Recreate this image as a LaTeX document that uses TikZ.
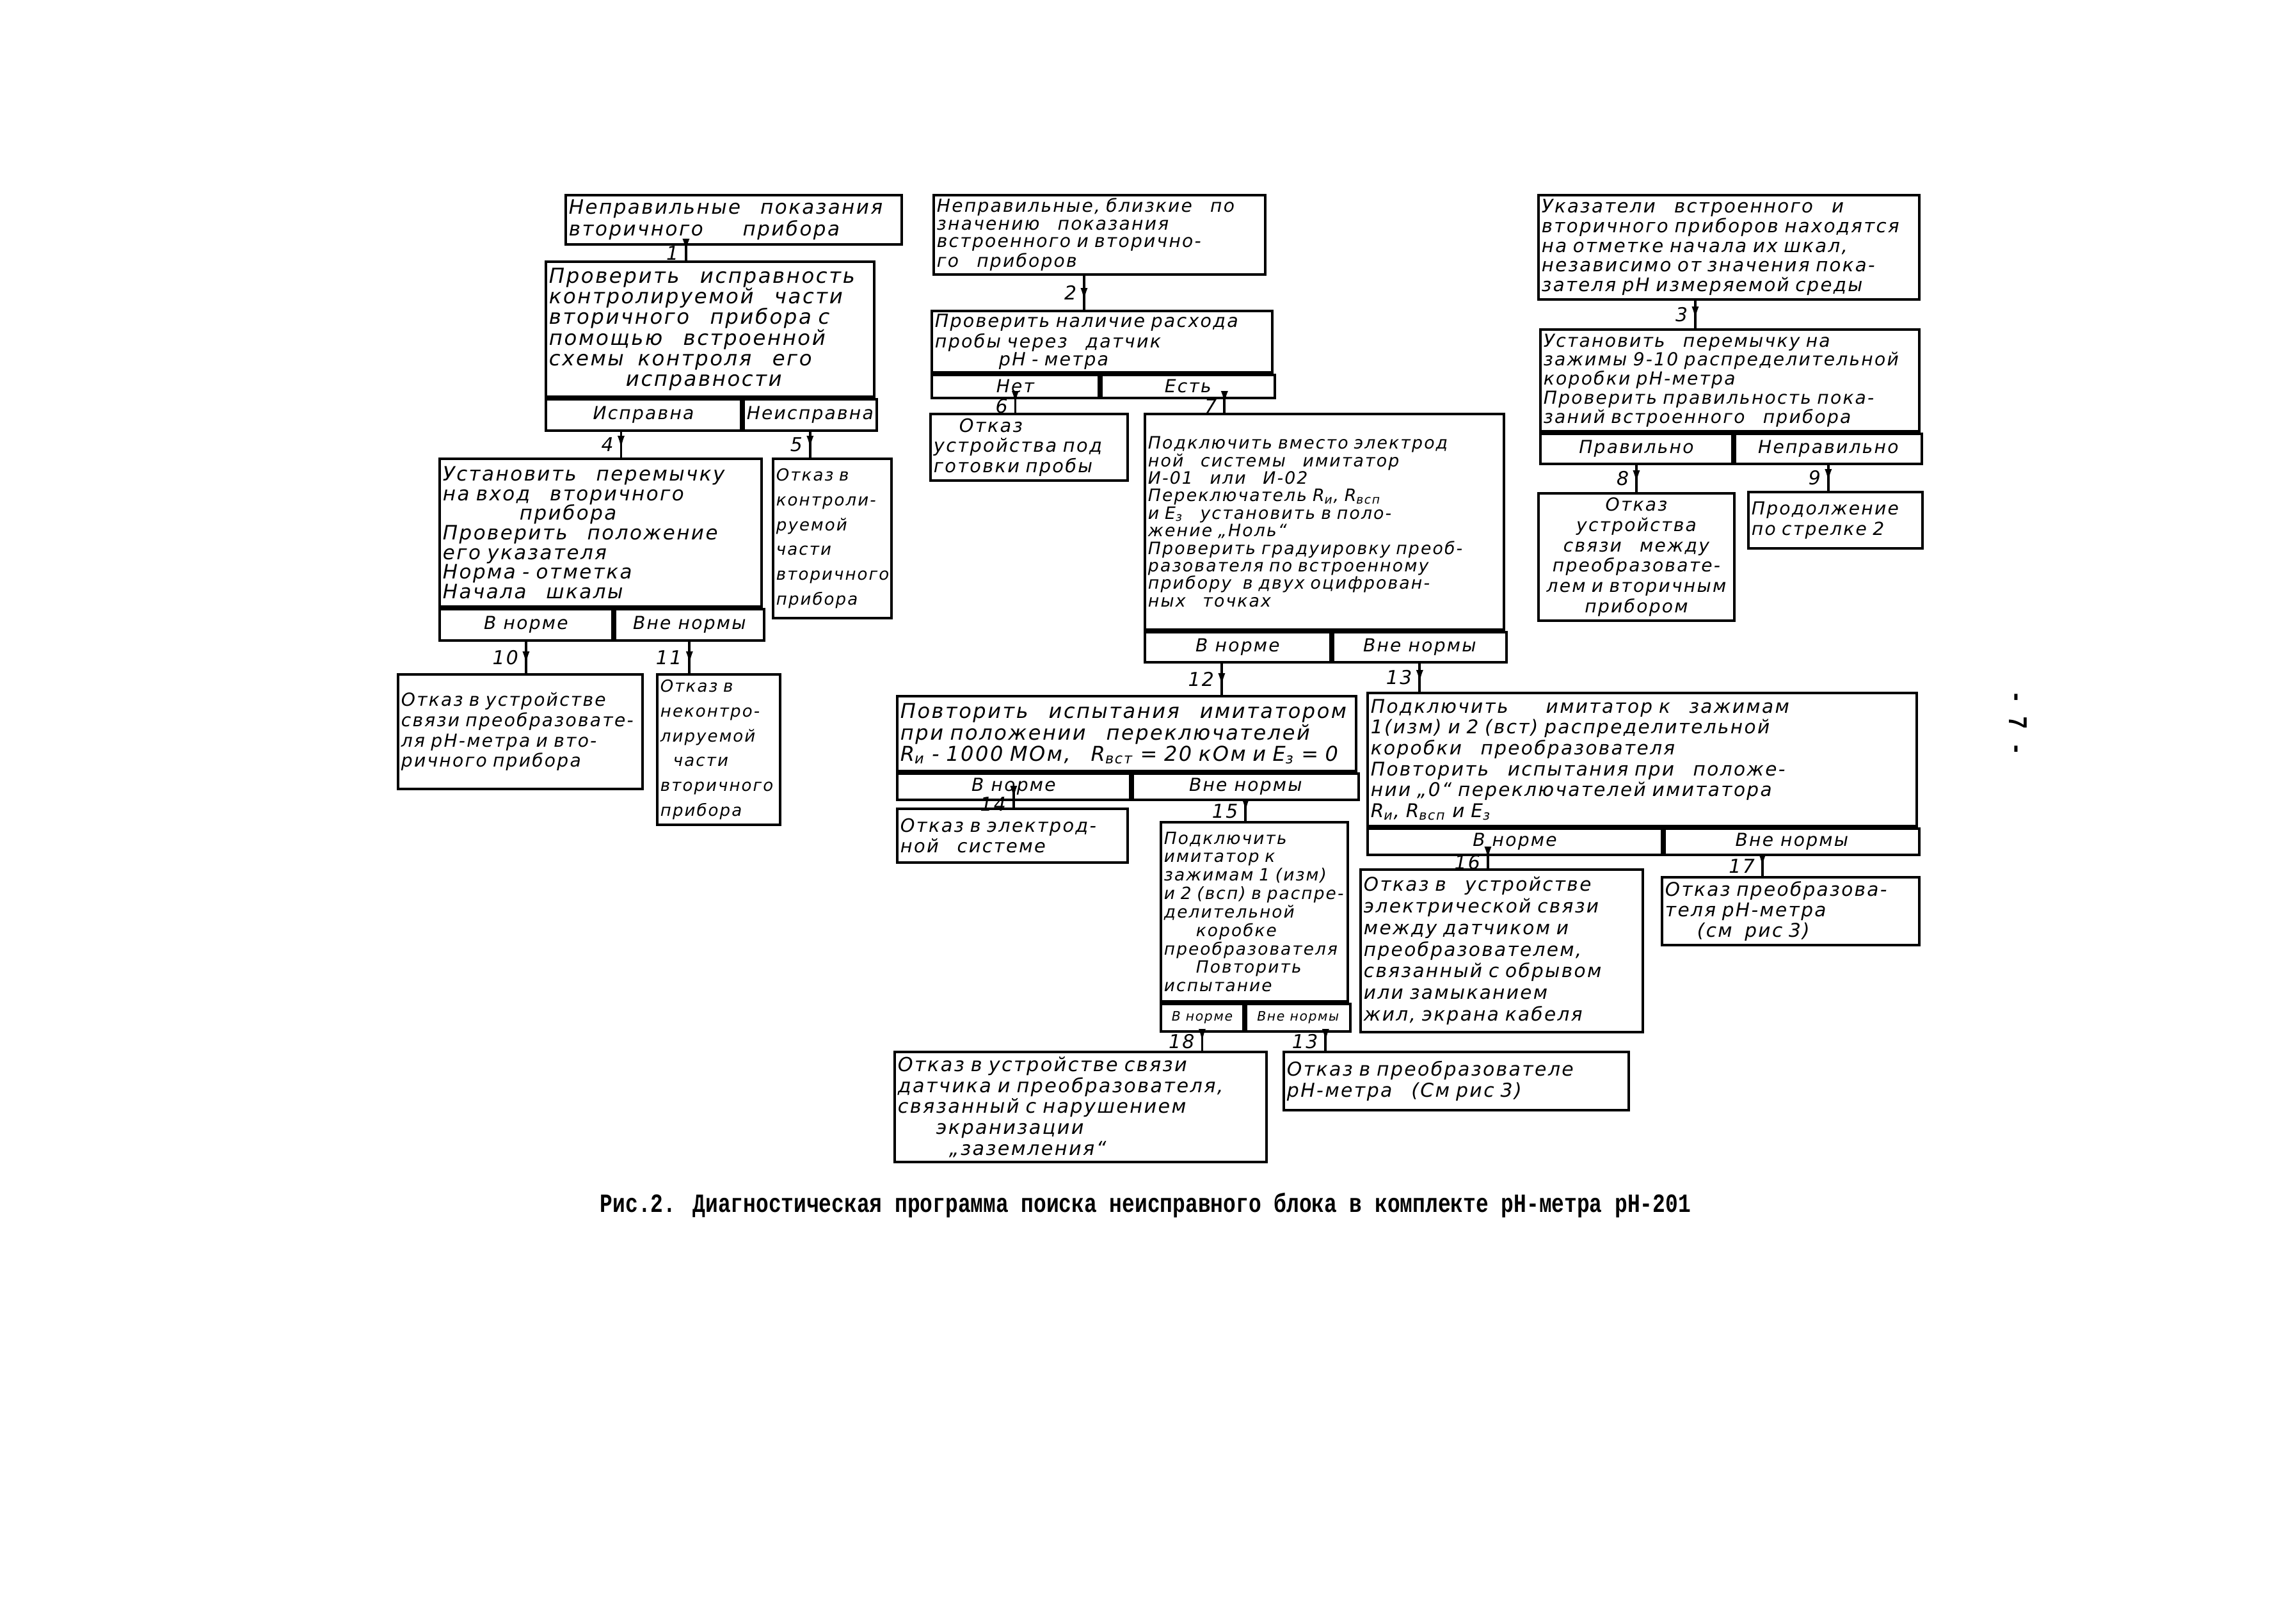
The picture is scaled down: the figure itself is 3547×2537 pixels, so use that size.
\documentclass[tikz,border=0pt]{standalone}
\usepackage{fontspec}
\setmainfont{DejaVu Sans}
\newfontfamily\hw[LetterSpace=8]{DejaVu Sans}
\newfontfamily\capfont[FakeStretch=0.8]{Liberation Mono}
\usetikzlibrary{arrows.meta}

\begin{document}
\begin{tikzpicture}[x=0.1mm, y=0.1mm,
  hand/.style 2 args={font=\hw\itshape\fontsize{#1}{#2}\selectfont},
  blk/.style 2 args={draw, line width=1.1pt, anchor=north west, inner sep=0.5mm,
    align=left, text width=#1, minimum height=#2, hand={8}{9}},
  ans/.style 2 args={draw, line width=1.1pt, anchor=north west, inner sep=0pt,
    align=center, minimum width=#1, minimum height=#2, hand={8}{9}},
  flow/.style={line width=1.1pt, -{Latex[length=2.2mm,width=1.1mm]}, shorten >=1.2mm,
    postaction={draw, arrows=-, shorten >=0pt}},
  num/.style={midway, left, inner sep=1mm, hand={8.5}{9}}]
  \useasboundingbox (0,0) rectangle (3547,-2537);

  % left branch
  \node[blk={51.5mm}{7.7mm}, hand={8.8}{8.5}] (sec) at (882,-303)
    {Неправильные\quad показания\\ вторичного\qquad прибора};
  \node[blk={50.3mm}{21.1mm}, hand={9.2}{9.2}] (selfTest) at (851,-407)
    {Проверить\quad исправность\\ контролируемой\quad части\\ вторичного\quad прибора с\\
     помощью\quad встроенной\\ схемы\ \ контроля\quad его\\ \hspace*{12mm}исправности};
  \node[ans={30.5mm}{4.9mm}] (selfOk) at (selfTest.south west) {Исправна};
  \node[ans={20.8mm}{4.9mm}] (selfBad) at (selfOk.north east) {Неисправна};

  \node[blk={49.3mm}{23.1mm}, hand={8.8}{8.7}] (jumper) at (685,-715)
    {Установить\quad перемычку\\ на вход\quad вторичного\\ \hspace*{12mm}прибора\\
     Проверить\quad положение\\ его указателя\\ Норма - отметка\\ Начала\quad шкалы};
  \node[ans={27.0mm}{4.9mm}] (jumperIn) at (jumper.south west) {В норме};
  \node[ans={23.3mm}{4.9mm}] (jumperOut) at (jumperIn.north east) {Вне нормы};
  \node[blk={17.5mm}{24.9mm}, hand={7.4}{11}] (ctlFail) at (1206,-715)
    {Отказ в\\ контроли-\\ руемой\\ части\\ вторичного\\ прибора};
  \node[blk={37.2mm}{17.9mm}] (linkFail) at (620,-1052)
    {Отказ в устройстве\\ связи преобразовате-\\ ля pH-метра и вто-\\ ричного прибора};
  \node[blk={18.2mm}{23.5mm}, hand={7.4}{11}] (unctlFail) at (1025,-1052)
    {Отказ в\\ неконтро-\\ лируемой\\ \hspace*{2mm}части\\ вторичного\\ прибора};

  % middle branch
  \node[blk={50.8mm}{12.2mm}, hand={8}{7.8}] (close) at (1457,-303)
    {Неправильные, близкие\quad по\\ значению\quad показания\\ встроенного и вторично-\\ го\quad приборов};
  \node[blk={52.2mm}{9.5mm}, hand={8.1}{7.9}] (probe) at (1454,-484)
    {Проверить наличие расхода\\ пробы через\quad датчик\\ \hspace*{10mm}pH - метра};
  \node[ans={26.1mm}{3.6mm}] (probeNo) at (probe.south west) {Нет};
  \node[ans={27.1mm}{3.6mm}] (probeYes) at (probeNo.north east) {Есть};
  \node[blk={29.8mm}{10.4mm}, hand={8.2}{9}] (prepFail) at (1452,-645)
    {\hspace*{4mm}Отказ\\ устройства под\\ готовки пробы};
  \node[blk={55.1mm}{33.7mm}, hand={7.6}{7.8}] (imit) at (1787,-645)
    {Подключить вместо электрод\\ ной\quad системы\quad имитатор\\ И-01\quad или\quad И-02\\
     Переключатель R\textsubscript{и}, R\textsubscript{всп}\\ и E\textsubscript{з}\quad установить в поло-\\
     жение „Ноль“\\ Проверить градуировку преоб-\\ разователя по встроенному\\
     прибору\ \ в двух оцифрован-\\ ных\quad точках\\[2mm]};
  \node[ans={29.0mm}{4.7mm}] (imitIn) at (imit.south west) {В норме};
  \node[ans={27.1mm}{4.7mm}] (imitOut) at (imitIn.north east) {Вне нормы};

  \node[blk={70.7mm}{11.7mm}, hand={9.1}{9.6}] (repeat) at (1400,-1086)
    {Повторить\quad испытания\quad имитатором\\ при положении\quad переключателей\\
     R\textsubscript{и} - 1000 МОм,\quad R\textsubscript{вст} = 20 кОм и E\textsubscript{з} = 0};
  \node[ans={36.4mm}{4.1mm}] (repeatIn) at (repeat.south west) {В норме};
  \node[ans={35.3mm}{4.1mm}] (repeatOut) at (repeatIn.north east) {Вне нормы};
  \node[blk={35.0mm}{8.4mm}, hand={8.2}{9}] (elecFail) at (1400,-1262)
    {Отказ в электрод-\\ ной\quad системе};
  \node[blk={28.2mm}{28.0mm}, hand={7.5}{8.2}] (distr) at (1812,-1283)
    {Подключить\\ имитатор к\\ зажимам 1 (изм)\\ и 2 (всп) в распре-\\ делительной\\
     \hspace*{5mm}коробке\\ преобразователя\\ \hspace*{5mm}Повторить\\ испытание};
  \node[ans={12.9mm}{4.3mm}, hand={5.8}{6}] (distrIn) at (distr.south west) {В норме};
  \node[ans={16.3mm}{4.3mm}, hand={5.8}{6}] (distrOut) at (distrIn.north east) {Вне нормы};
  \node[blk={57.1mm}{17.2mm}, hand={8.6}{9.3}] (shieldFail) at (1396,-1642)
    {Отказ в устройстве связи\\ датчика и преобразователя,\\ связанный с нарушением\\
     \hspace*{6mm}экранизации\\ \hspace*{8mm}„заземления“};
  \node[blk={52.9mm}{9.1mm}, hand={8.5}{9.3}] (conv3) at (2004,-1642)
    {Отказ в преобразователе\\ pH-метра\quad (См рис 3)};

  \node[blk={84.8mm}{20.8mm}, hand={8.4}{9.3}] (termBox) at (2135,-1081)
    {Подключить\qquad имитатор к\quad зажимам\\ 1(изм) и 2 (вст) распределительной\\
     коробки\quad преобразователя\\ Повторить\quad испытания при\quad положе-\\
     нии „0“ переключателей имитатора\\ R\textsubscript{и}, R\textsubscript{всп} и E\textsubscript{з}};
  \node[ans={46.0mm}{4.1mm}] (termIn) at (termBox.south west) {В норме};
  \node[ans={39.8mm}{4.1mm}] (termOut) at (termIn.north east) {Вне нормы};
  \node[blk={43.1mm}{25.4mm}, hand={8.4}{9.6}] (cableFail) at (2124,-1357)
    {Отказ в\quad устройстве\\ электрической связи\\ между датчиком и\\ преобразователем,\\
     связанный с обрывом\\ или замыканием\\ жил, экрана кабеля};
  \node[blk={39.2mm}{10.6mm}, hand={8.4}{9.2}] (convFail) at (2595,-1369)
    {Отказ преобразова-\\ теля pH-метра\\ \hspace*{5mm}(см\ \ рис 3)};

  % right branch
  \node[blk={58.5mm}{16.3mm}, hand={8.3}{8.7}] (zero) at (2402,-303)
    {Указатели\quad встроенного\quad и\\ вторичного приборов находятся\\ на отметке начала их шкал,\\
     независимо от значения пока-\\ зателя pH измеряемой среды};
  \node[blk={58.2mm}{15.9mm}, hand={8}{8.5}] (jumper9) at (2405,-513)
    {Установить\quad перемычку на\\ зажимы 9-10 распределительной\\ коробки pH-метра\\
     Проверить правильность пока-\\ заний встроенного\quad прибора};
  \node[ans={30.0mm}{4.7mm}] (jumper9Ok) at (jumper9.south west) {Правильно};
  \node[ans={29.2mm}{4.7mm}] (jumper9Bad) at (jumper9Ok.north east) {Неправильно};
  \node[blk={29.6mm}{19.9mm}, align=center] (link2Fail) at (2402,-769)
    {Отказ\\ устройства\\ связи\quad между\\ преобразовате-\\ лем и вторичным\\ прибором};
  \node[blk={26.2mm}{8.8mm}] (cont) at (2730,-767)
    {Продолжение\\ по стрелке 2};

  % arrows
  \draw[flow] ([xshift=-7.45mm]sec.south) coordinate (p1) -- (p1 |- selfTest.north) node[num] {1};
  \draw[flow] ([xshift=-2.4mm]close.south) coordinate (p2) -- (p2 |- probe.north) node[num] {2};
  \draw[flow] ([xshift=-5.25mm]zero.south) coordinate (p3) -- (p3 |- jumper9.north) node[num] {3};
  \draw[flow] ([xshift=-3.5mm]selfOk.south) coordinate (p4) -- (p4 |- jumper.north) node[num] {4};
  \draw[flow] (selfBad.south) -- (selfBad.south |- ctlFail.north) node[num] {5};
  \draw[flow] (probeNo.south) -- (probeNo.south |- prepFail.north) node[num] {6};
  \draw[flow] ([xshift=5.7mm]probeYes.south) coordinate (p7) -- (p7 |- imit.north) node[num] {7};
  \draw[flow] (jumper9Ok.south) -- (jumper9Ok.south |- link2Fail.north) node[num] {8};
  \draw[flow] (jumper9Bad.south) -- (jumper9Bad.south |- cont.north) node[num] {9};
  \draw[flow] (jumperIn.south) -- (jumperIn.south |- linkFail.north) node[num] {10};
  \draw[flow] (jumperOut.south) -- (jumperOut.south |- unctlFail.north) node[num] {11};
  \draw[flow] ([xshift=-2.5mm]imitIn.south) coordinate (p12) -- (p12 |- repeat.north) node[num] {12};
  \draw[flow] (imitOut.south) -- (imitOut.south |- termBox.north) node[num] {13};
  \draw[flow] (repeatIn.south) -- (repeatIn.south |- elecFail.north) node[num] {14};
  \draw[flow] (repeatOut.south) -- (repeatOut.south |- distr.north) node[num] {15};
  \draw[flow] ([xshift=-4.2mm]termIn.south) coordinate (p16) -- (p16 |- cableFail.north) node[num] {16};
  \draw[flow] ([xshift=-4.6mm]termOut.south) coordinate (p17) -- (p17 |- convFail.north) node[num] {17};
  \draw[flow] (distrIn.south) -- (distrIn.south |- shieldFail.north) node[num] {18};
  \draw[flow] ([xshift=4.3mm]distrOut.south) coordinate (p13) -- (p13 |- conv3.north) node[num] {13};

  % caption and page number
  \node[font=\capfont\bfseries\fontsize{11.7}{12}\selectfont] (caption) at (1790,-1884)
    {Рис.2. Диагностическая программа поиска неисправного блока в комплекте pH-метра pH-201};
  \node[rotate=-90, font=\capfont\bfseries\fontsize{12}{12}\selectfont] (page) at (3153,-1130) {- 7 -};
\end{tikzpicture}
\end{document}
